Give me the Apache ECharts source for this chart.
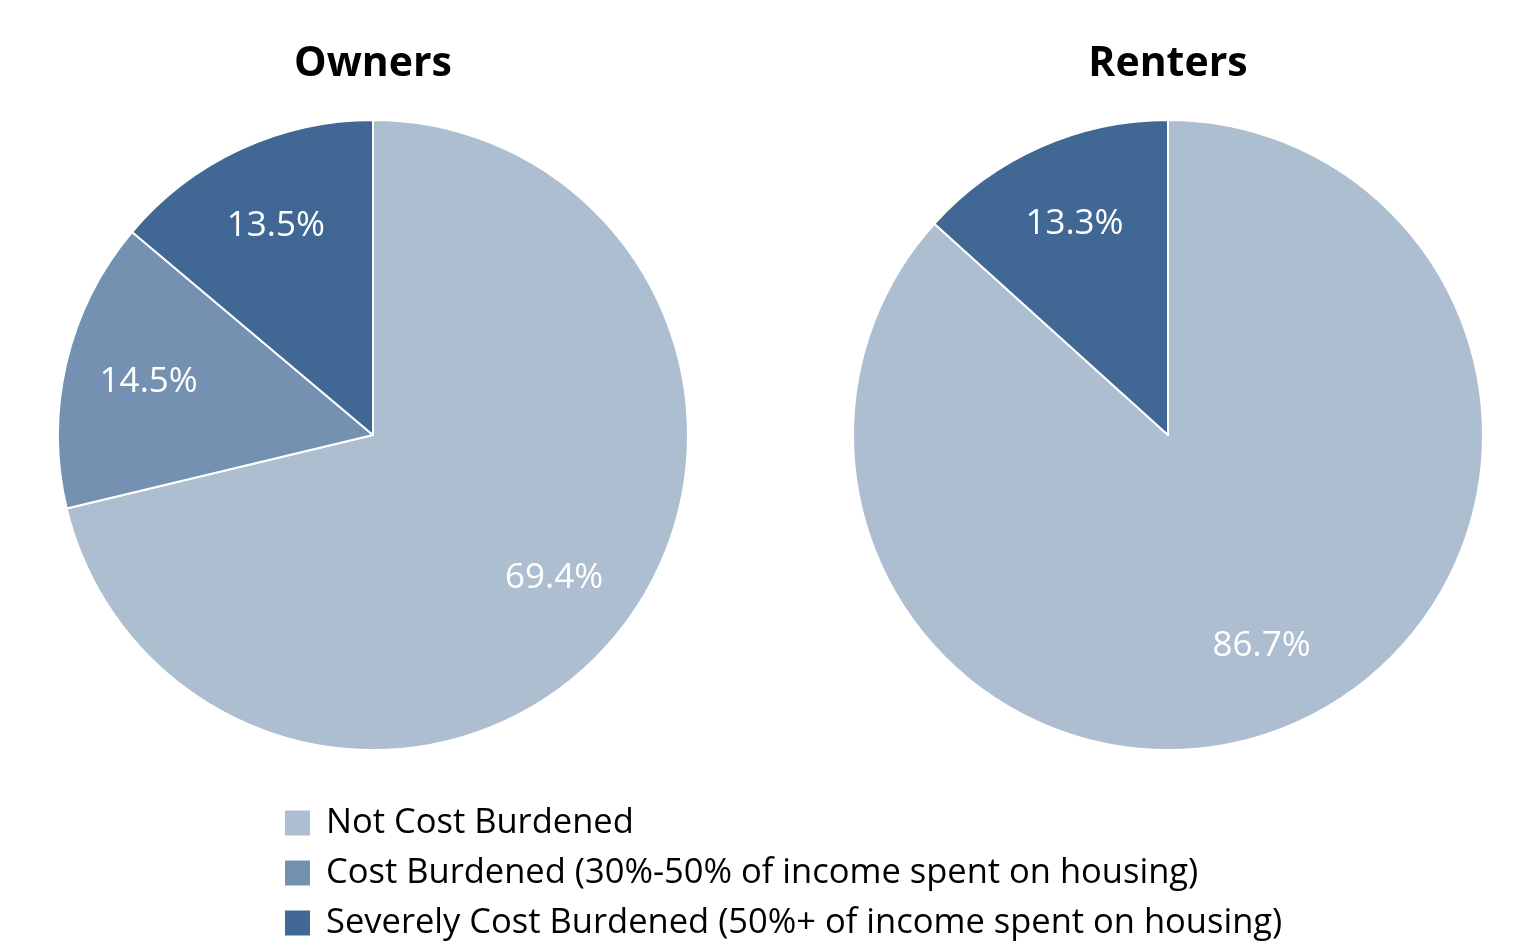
<!DOCTYPE html>
<html>
<head>
<meta charset="utf-8">
<script src="https://cdn.jsdelivr.net/npm/echarts@6/dist/echarts.min.js"></script>
<style>
  html, body { margin: 0; padding: 0; background: #fff; }
  #chart { width: 1514px; height: 948px; }
</style>
</head>
<body>
<div id="chart"></div>
<script>
// categories and values
const categories = [
  'Not Cost Burdened',
  'Cost Burdened (30%-50% of income spent on housing)',
  'Severely Cost Burdened (50%+ of income spent on housing)'
]
const ownerValues = [69.4, 14.5, 13.5]
const renterValues = [86.7, 0, 13.3]
const pieTitles = ['Owners', 'Renters']

const colors = ['#adbed1', '#7591b1', '#416894']
const FONT = 'Open Sans'
const R = 315

function buildData(values) {
  const out = []
  for (let i = 0; i < values.length; i++) {
    if (values[i] > 0) {
      out.push({name: categories[i], value: values[i], itemStyle: {color: colors[i]}})
    }
  }
  return out
}

// coloured pie, no labels
function pieSeries(values, cx) {
  return {
    type: 'pie',
    center: [cx, 435],
    radius: [0, R],
    startAngle: 90,
    clockwise: true,
    silent: true,
    itemStyle: {borderColor: '#fff', borderWidth: 2},
    label: {show: false},
    labelLine: {show: false},
    data: buildData(values)
  }
}

// transparent ring on top, only there to put labels further out
function labelSeries(values, cx) {
  return {
    type: 'pie',
    center: [cx, 435],
    radius: [140, R],
    startAngle: 90,
    clockwise: true,
    silent: true,
    itemStyle: {color: 'transparent', borderWidth: 0},
    label: {
      show: true,
      position: 'inside',
      color: '#fff',
      fontFamily: FONT,
      fontSize: 35,
      formatter: p => p.value.toFixed(1) + '%'
    },
    labelLine: {show: false},
    data: buildData(values).map(d => ({name: d.name, value: d.value}))
  }
}

const chart = echarts.init(document.getElementById('chart'), null, {renderer: 'canvas'})
chart.setOption({
  animation: false,
  backgroundColor: '#fff',
  title: [
    {
      text: pieTitles[0], left: 368, top: 39, textAlign: 'center',
      textStyle: {fontFamily: FONT, fontWeight: 'bold', fontSize: 41, color: '#000'}
    },
    {
      text: pieTitles[1], left: 1163, top: 39, textAlign: 'center',
      textStyle: {fontFamily: FONT, fontWeight: 'bold', fontSize: 41, color: '#000'}
    }
  ],
  legend: {
    orient: 'vertical',
    left: 283,
    top: 803,
    height: 145,
    padding: 0,
    icon: 'rect',
    itemWidth: 27,
    itemHeight: 27,
    itemGap: 10,
    selectedMode: false,
    data: categories,
    textStyle: {fontFamily: FONT, fontSize: 34.5, color: '#000', lineHeight: 40, padding: [0, 0, 0, 10]}
  },
  series: [
    pieSeries(ownerValues, 373),
    pieSeries(renterValues, 1168),
    labelSeries(ownerValues, 373),
    labelSeries(renterValues, 1168)
  ]
})
</script>
</body>
</html>
